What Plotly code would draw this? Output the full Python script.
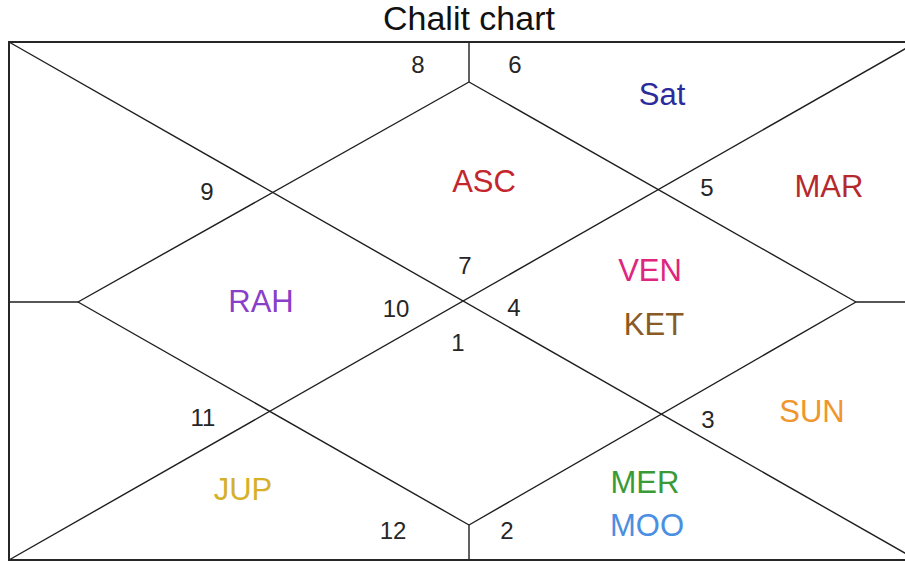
import plotly.graph_objects as go

# ---------------- data ----------------
house_signs = [7, 6, 5, 4, 3, 2, 1, 12, 11, 10, 9, 8]
planets = ["ASC", "Sat", "MAR", "VEN", "KET", "SUN", "MER", "MOO", "RAH", "JUP"]
planet_sign = [7, 6, 5, 4, 4, 3, 2, 2, 10, 12]
planet_colors = ["#c3262d", "#2b2b9b", "#b5282c", "#e0257e", "#8a5a25",
                 "#f0962e", "#3a9a35", "#4b8fe3", "#8a3fc9", "#d6b02a"]
title_text = "Chalit chart"

# ---------------- layout geometry (page pixel space) ----------------
W, H = 905, 563
L, T, R, B = 9, 42, 917, 560
dia_top, dia_right, dia_bot, dia_left = (469, 82), (856, 302), (469, 525), (78, 302)
mid_y = 302

sign_pos = {7: (465, 268), 6: (515, 67), 5: (707, 190), 4: (514, 310),
            3: (708, 422), 2: (507, 533), 1: (458, 345), 12: (393, 533),
            11: (203, 420), 10: (396, 311), 9: (207, 194), 8: (418, 67)}
planet_pos = {"ASC": (484, 184), "Sat": (662, 97), "MAR": (829, 189),
              "VEN": (650, 273), "KET": (654, 327), "SUN": (812, 414),
              "MER": (645, 485), "MOO": (647, 528), "RAH": (261, 304),
              "JUP": (243, 492)}

FONT = "Arial, Liberation Sans, sans-serif"

fig = go.Figure()

line_col = "#1e1e1e"
segments = [
    ((L, T), (R, B)),
    ((L, B), (R, T)),
    (dia_top, dia_right), (dia_right, dia_bot), (dia_bot, dia_left), (dia_left, dia_top),
    ((dia_top[0], T), dia_top), (dia_bot, (dia_bot[0], B)),
    ((L, mid_y), dia_left), (dia_right, (R, mid_y)),
]
for (x0, y0), (x1, y1) in segments:
    fig.add_shape(type="line", x0=x0, y0=y0, x1=x1, y1=y1, xref="x", yref="y",
                  line=dict(color=line_col, width=1.4))
fig.add_shape(type="rect", x0=L, y0=T, x1=R, y1=B, xref="x", yref="y",
              line=dict(color="#262626", width=2))

# house sign numbers
fig.add_trace(go.Scatter(
    x=[sign_pos[s][0] for s in house_signs],
    y=[sign_pos[s][1] for s in house_signs],
    text=[str(s) for s in house_signs], mode="text",
    textfont=dict(family=FONT, size=24, color="#262626"),
    hoverinfo="skip", showlegend=False))

# planets
fig.add_trace(go.Scatter(
    x=[planet_pos[p][0] for p in planets],
    y=[planet_pos[p][1] for p in planets],
    text=planets, mode="text",
    textfont=dict(family=FONT, size=31, color=planet_colors),
    hoverinfo="skip", showlegend=False))

fig.add_annotation(x=469, y=18, xref="x", yref="y", text=title_text, showarrow=False,
                   font=dict(family=FONT, size=34, color="#111111"))

fig.update_layout(
    width=W, height=H, margin=dict(l=0, r=0, t=0, b=0),
    paper_bgcolor="white", plot_bgcolor="white",
    xaxis=dict(range=[0, W], visible=False, fixedrange=True),
    yaxis=dict(range=[H, 0], visible=False, fixedrange=True),
)

fig.write_html("out.html",
               config={"displayModeBar": False, "staticPlot": True},
               post_script="document.body.style.margin='0';document.body.style.overflow='hidden';")
